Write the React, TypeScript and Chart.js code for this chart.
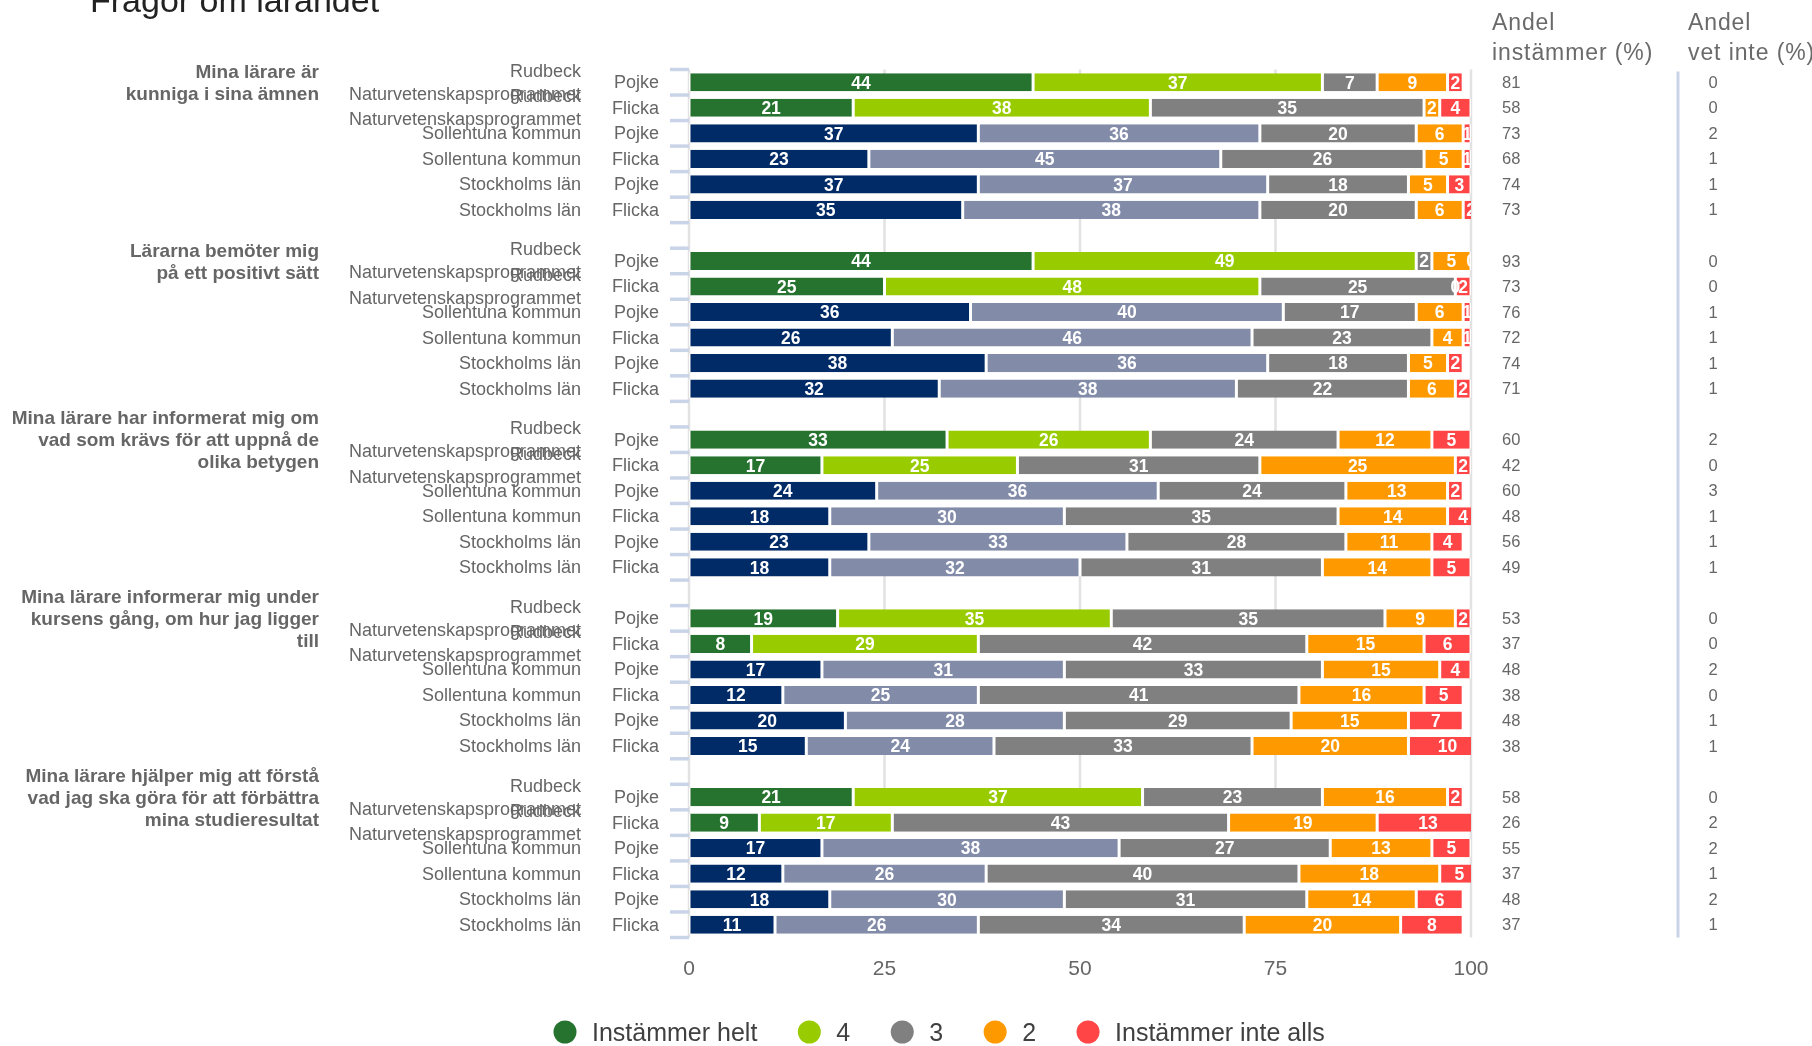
import { useEffect, useRef } from "react";
import { Chart, registerables } from "chart.js";

Chart.register(...registerables);

const title = "Frågor om lärandet";

const questions: string[][] = [
  ["Mina lärare är", "kunniga i sina ämnen"],
  ["Lärarna bemöter mig", "på ett positivt sätt"],
  ["Mina lärare har informerat mig om", "vad som krävs för att uppnå de", "olika betygen"],
  ["Mina lärare informerar mig under", "kursens gång, om hur jag ligger", "till"],
  ["Mina lärare hjälper mig att förstå", "vad jag ska göra för att förbättra", "mina studieresultat"],
];

const units: string[][] = [
  ["Rudbeck", "Naturvetenskapsprogrammet"],
  ["Rudbeck", "Naturvetenskapsprogrammet"],
  ["Sollentuna kommun"],
  ["Sollentuna kommun"],
  ["Stockholms län"],
  ["Stockholms län"],
];

const genders = ["Pojke", "Flicka", "Pojke", "Flicka", "Pojke", "Flicka"];

const seriesNames = ["Instämmer helt", "4", "3", "2", "Instämmer inte alls"];

// values per row: 5 questions x 6 rows
const instammerHelt = [44, 21, 37, 23, 37, 35, 44, 25, 36, 26, 38, 32, 33, 17, 24, 18, 23, 18, 19, 8, 17, 12, 20, 15, 21, 9, 17, 12, 18, 11];
const fyra = [37, 38, 36, 45, 37, 38, 49, 48, 40, 46, 36, 38, 26, 25, 36, 30, 33, 32, 35, 29, 31, 25, 28, 24, 37, 17, 38, 26, 30, 26];
const tre = [7, 35, 20, 26, 18, 20, 2, 25, 17, 23, 18, 22, 24, 31, 24, 35, 28, 31, 35, 42, 33, 41, 29, 33, 23, 43, 27, 40, 31, 34];
const tva = [9, 2, 6, 5, 5, 6, 5, 0, 6, 4, 5, 6, 12, 25, 13, 14, 11, 14, 9, 15, 15, 16, 15, 20, 16, 19, 13, 18, 14, 20];
const inteAlls = [2, 4, 1, 1, 3, 2, 0, 2, 1, 1, 2, 2, 5, 2, 2, 4, 4, 5, 2, 6, 4, 5, 7, 10, 2, 13, 5, 5, 6, 8];

const andelInstammer = [81, 58, 73, 68, 74, 73, 93, 73, 76, 72, 74, 71, 60, 42, 60, 48, 56, 49, 53, 37, 48, 38, 48, 38, 58, 26, 55, 37, 48, 37];
const andelVetInte = [0, 0, 2, 1, 1, 1, 0, 0, 1, 1, 1, 1, 2, 0, 3, 1, 1, 1, 0, 0, 2, 0, 1, 1, 0, 2, 2, 1, 2, 1];

const xTicks = [0, 25, 50, 75, 100];

const colHeaders = [["Andel", "instämmer (%)"], ["Andel", "vet inte (%)"]];

const schoolColors = ["#267330", "#99cc00", "#808080", "#ff9900", "#ff4545"];
const compareColors = ["#002b66", "#828ca9", "#808080", "#ff9900", "#ff4545"];

const FONT = '"Liberation Sans", Arial, sans-serif';
const ROWS_PER_GROUP = 6;
const SLOTS = questions.length * (ROWS_PER_GROUP + 1) - 1;

function slotOf(g: number, r: number) {
  return g * (ROWS_PER_GROUP + 1) + r;
}

export default function App() {
  const ref = useRef<HTMLCanvasElement | null>(null);

  useEffect(() => {
    const canvas = ref.current;
    if (!canvas) return;

    const series = [instammerHelt, fyra, tre, tva, inteAlls];
    const labels: string[] = [];
    for (let i = 0; i < SLOTS; i++) labels.push("s" + i);

    const datasets = series.map((vals, si) => {
      const data: (number | null)[] = new Array(SLOTS).fill(null);
      const colors: string[] = new Array(SLOTS).fill("#ffffff");
      vals.forEach((v, k) => {
        const g = Math.floor(k / ROWS_PER_GROUP);
        const r = k % ROWS_PER_GROUP;
        const s = slotOf(g, r);
        data[s] = v;
        colors[s] = r < 2 ? schoolColors[si] : compareColors[si];
      });
      return {
        label: seriesNames[si],
        data,
        backgroundColor: colors,
        borderColor: "#ffffff",
        borderWidth: { left: 1.5, right: 1.5, top: 0, bottom: 0 },
        borderSkipped: false as const,
        categoryPercentage: 1,
        barPercentage: 0.71,
      };
    });

    const deco = {
      id: "deco",
      beforeDatasetsDraw(chart: any) {
        const ctx = chart.ctx as CanvasRenderingContext2D;
        const area = chart.chartArea;
        const ys = chart.scales.y;
        const xs = chart.scales.x;
        const half = (ys.getPixelForValue(1) - ys.getPixelForValue(0)) / 2;
        ctx.save();
        ctx.strokeStyle = "#e2e2e2";
        ctx.lineWidth = 2.5;
        // full-height lines at 0 and 100
        [xTicks[0], xTicks[xTicks.length - 1]].forEach((t) => {
          const x = xs.getPixelForValue(t);
          ctx.beginPath();
          ctx.moveTo(x, area.top);
          ctx.lineTo(x, area.bottom);
          ctx.stroke();
        });
        // inner grid lines only in spacer slots between groups and top margin
        const inner = xTicks.slice(1, -1);
        const segs: [number, number][] = [[area.top, area.top + half * 0.55]];
        for (let g = 0; g < questions.length - 1; g++) {
          const c = ys.getPixelForValue(slotOf(g, ROWS_PER_GROUP));
          segs.push([c - half * 1.6, c + half * 1.6]);
        }
        inner.forEach((t) => {
          const x = xs.getPixelForValue(t);
          segs.forEach(([a, b]) => {
            ctx.beginPath();
            ctx.moveTo(x, a);
            ctx.lineTo(x, b);
            ctx.stroke();
          });
        });
        ctx.restore();
      },
      afterDatasetsDraw(chart: any) {
        const ctx = chart.ctx as CanvasRenderingContext2D;
        const area = chart.chartArea;
        ctx.save();
        ctx.beginPath();
        ctx.rect(area.left, area.top, area.right - area.left, area.bottom - area.top);
        ctx.clip();
        ctx.font = `bold 17.5px ${FONT}`;
        ctx.fillStyle = "#ffffff";
        ctx.textAlign = "center";
        ctx.textBaseline = "middle";
        chart.data.datasets.forEach((ds: any, di: number) => {
          const meta = chart.getDatasetMeta(di);
          meta.data.forEach((el: any, idx: number) => {
            const v = ds.data[idx];
            if (v === null || v === undefined) return;
            const p = el.getProps(["x", "y", "base"], true);
            ctx.fillText(String(v), (p.x + p.base) / 2, p.y + 1.5);
          });
        });
        ctx.restore();
      },
      afterDraw(chart: any) {
        const ctx = chart.ctx as CanvasRenderingContext2D;
        const area = chart.chartArea;
        const ys = chart.scales.y;
        const xs = chart.scales.x;
        const half = (ys.getPixelForValue(1) - ys.getPixelForValue(0)) / 2;
        ctx.save();

        // title
        ctx.fillStyle = "#222222";
        ctx.font = `34px ${FONT}`;
        ctx.textAlign = "left";
        ctx.textBaseline = "alphabetic";
        ctx.fillText(title, 90, 12);

        // y tick marks at slot boundaries
        ctx.strokeStyle = "#cad4e8";
        ctx.lineWidth = 3.5;
        for (let i = 0; i <= SLOTS; i++) {
          const y = ys.getPixelForValue(0) - half + i * 2 * half;
          ctx.beginPath();
          ctx.moveTo(area.left - 19, y);
          ctx.lineTo(area.left, y);
          ctx.stroke();
        }

        // separator line between right columns
        ctx.strokeStyle = "#cad4e8";
        ctx.lineWidth = 3;
        ctx.beginPath();
        ctx.moveTo(1678, area.top + 2);
        ctx.lineTo(1678, area.bottom);
        ctx.stroke();

        // row labels
        ctx.fillStyle = "#666666";
        ctx.textBaseline = "middle";
        questions.forEach((q, g) => {
          for (let r = 0; r < ROWS_PER_GROUP; r++) {
            const k = g * ROWS_PER_GROUP + r;
            const y = ys.getPixelForValue(slotOf(g, r));
            ctx.font = `18px ${FONT}`;
            ctx.textAlign = "right";
            ctx.fillText(genders[r], 659, y + 1);
            const u = units[r];
            if (u.length === 1) {
              ctx.fillText(u[0], 581, y + 1);
            } else {
              ctx.fillText(u[0], 581, y - 10.5);
              ctx.fillText(u[1], 581, y + 12.5);
            }
            ctx.font = `16.5px ${FONT}`;
            ctx.textAlign = "left";
            ctx.fillText(String(andelInstammer[k]), 1502, y + 1);
            ctx.textAlign = "center";
            ctx.fillText(String(andelVetInte[k]), 1713, y + 1);
          }
          const y0 = ys.getPixelForValue(slotOf(g, 0));
          ctx.font = `bold 19px ${FONT}`;
          ctx.textAlign = "right";
          const lh = 22;
          const start = y0 + 1.5 - ((q.length - 1) * lh) / 2;
          q.forEach((line, li) => ctx.fillText(line, 319, start + li * lh));
        });

        // column headers
        ctx.fillStyle = "#6a6a6a";
        ctx.font = `23px ${FONT}`;
        ctx.textAlign = "left";
        ctx.textBaseline = "alphabetic";
        (ctx as any).letterSpacing = "0.9px";
        ctx.fillText(colHeaders[0][0], 1492, 30);
        ctx.fillText(colHeaders[0][1], 1492, 60);
        ctx.fillText(colHeaders[1][0], 1688, 30);
        ctx.fillText(colHeaders[1][1], 1688, 60);
        (ctx as any).letterSpacing = "0px";

        // x tick labels
        ctx.fillStyle = "#666666";
        ctx.font = `21px ${FONT}`;
        ctx.textAlign = "center";
        ctx.textBaseline = "middle";
        xTicks.forEach((t) => ctx.fillText(String(t), xs.getPixelForValue(t), 969));

        // legend
        ctx.font = `25px ${FONT}`;
        ctx.textAlign = "left";
        ctx.textBaseline = "middle";
        let cx = 565;
        seriesNames.forEach((name, i) => {
          ctx.fillStyle = schoolColors[i];
          ctx.beginPath();
          ctx.arc(cx, 1032, 11.5, 0, Math.PI * 2);
          ctx.fill();
          ctx.fillStyle = "#404040";
          ctx.fillText(name, cx + 27, 1034);
          cx = cx + 27 + ctx.measureText(name).width + 52;
        });

        ctx.restore();
      },
    };

    const chart = new Chart(canvas, {
      type: "bar",
      data: { labels, datasets: datasets as any },
      options: {
        indexAxis: "y",
        animation: false,
        responsive: false,
        maintainAspectRatio: false,
        devicePixelRatio: 1,
        layout: { padding: { left: 689, right: 341, top: 69.5, bottom: 108.5 } },
        plugins: { legend: { display: false }, tooltip: { enabled: false } },
        scales: {
          x: {
            stacked: true,
            min: 0,
            max: 100,
            display: true,
            ticks: { display: false, stepSize: 25 },
            grid: { display: false, drawTicks: false },
            border: { display: false },
          },
          y: {
            stacked: true,
            display: false,
          },
        },
      },
      plugins: [deco],
    });

    return () => chart.destroy();
  }, []);

  return (
    <div style={{ position: "absolute", left: 0, top: 0, width: 1812, height: 1046, background: "#ffffff" }}>
      <canvas ref={ref} width={1812} height={1046} style={{ display: "block" }} />
    </div>
  );
}
